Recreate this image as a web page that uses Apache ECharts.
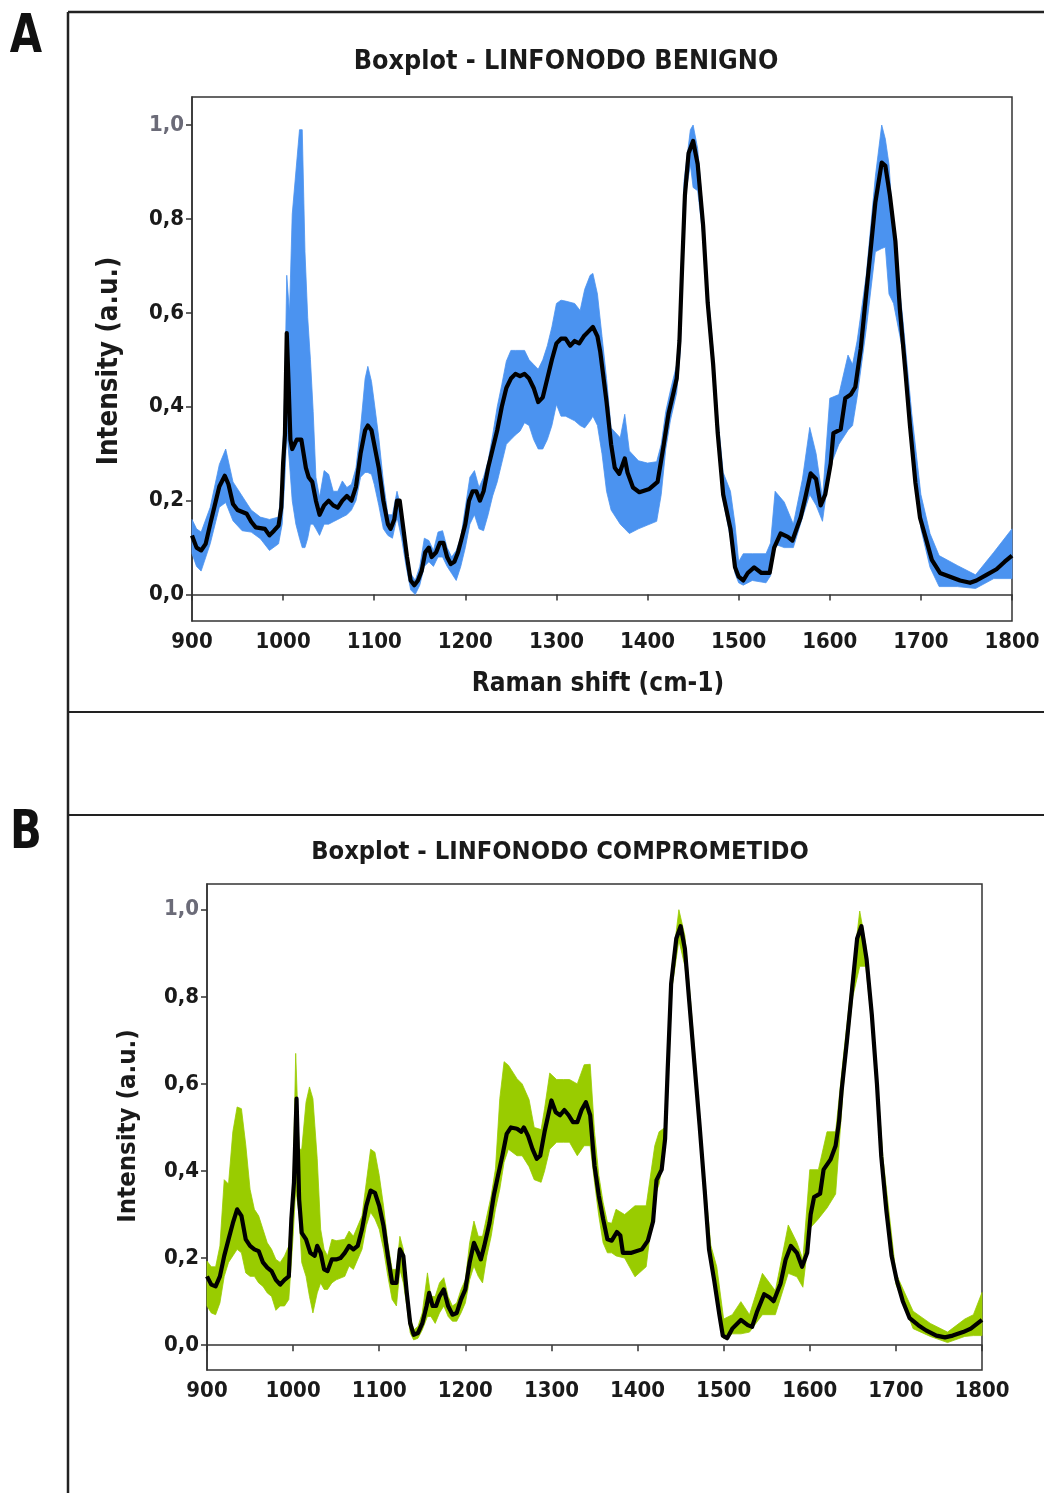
<!DOCTYPE html>
<html><head><meta charset="utf-8">
<script src="https://cdn.jsdelivr.net/npm/echarts@6/dist/echarts.min.js"></script>
<style>html,body{margin:0;padding:0;background:#fff}#c{width:1044px;height:1493px}</style>
</head><body><div id="c"></div><script>
// ---------- DATA ----------
const xTicks = [900, 1000, 1100, 1200, 1300, 1400, 1500, 1600, 1700, 1800];
const yTicks = [0, 0.2, 0.4, 0.6, 0.8, 1.0];

// Panel A: LINFONODO BENIGNO — median spectrum
const ramanA = [900,905,910,915,920,925,930,936,940,945,950,960,965,970,980,985,990,995,998,1000,1002,1004,1006,1008,1010,1015,1020,1025,1028,1032,1036,1040,1045,1050,1055,1060,1065,1070,1075,1080,1085,1090,1093,1097,1100,1105,1110,1115,1118,1122,1125,1128,1132,1136,1140,1144,1148,1152,1156,1160,1163,1168,1172,1176,1180,1184,1188,1192,1196,1200,1204,1208,1212,1216,1220,1225,1230,1235,1240,1245,1250,1255,1260,1265,1270,1275,1280,1285,1290,1295,1300,1305,1310,1315,1320,1325,1330,1335,1340,1345,1348,1355,1360,1364,1369,1375,1378,1384,1391,1402,1411,1417,1423,1428,1432,1435,1438,1441,1445,1450,1455,1461,1466,1472,1477,1483,1491,1496,1500,1505,1510,1517,1525,1534,1539,1546,1554,1559,1568,1573,1579,1585,1590,1595,1601,1604,1612,1617,1623,1628,1634,1639,1645,1650,1657,1661,1666,1672,1677,1683,1688,1694,1699,1705,1712,1721,1732,1743,1754,1761,1772,1783,1792,1800];
const medianA = [0.126,0.10,0.094,0.108,0.15,0.19,0.23,0.253,0.235,0.193,0.18,0.172,0.155,0.143,0.14,0.126,0.136,0.147,0.186,0.28,0.34,0.557,0.45,0.33,0.31,0.33,0.33,0.27,0.25,0.24,0.2,0.17,0.19,0.2,0.19,0.185,0.2,0.21,0.2,0.23,0.3,0.35,0.36,0.35,0.32,0.27,0.2,0.15,0.14,0.16,0.2,0.2,0.14,0.08,0.03,0.02,0.03,0.05,0.09,0.1,0.08,0.09,0.11,0.11,0.08,0.065,0.07,0.09,0.12,0.15,0.2,0.22,0.22,0.2,0.22,0.27,0.31,0.35,0.4,0.44,0.46,0.47,0.465,0.47,0.46,0.44,0.41,0.42,0.46,0.5,0.535,0.545,0.545,0.53,0.54,0.535,0.55,0.56,0.57,0.55,0.518,0.41,0.32,0.27,0.257,0.29,0.26,0.228,0.218,0.225,0.24,0.31,0.385,0.426,0.46,0.54,0.70,0.85,0.94,0.966,0.917,0.786,0.622,0.49,0.344,0.213,0.14,0.058,0.038,0.03,0.046,0.058,0.046,0.046,0.1,0.13,0.123,0.115,0.164,0.205,0.258,0.246,0.19,0.213,0.279,0.344,0.352,0.418,0.426,0.442,0.524,0.622,0.737,0.835,0.92,0.913,0.85,0.753,0.606,0.475,0.36,0.238,0.164,0.123,0.074,0.046,0.038,0.03,0.025,0.03,0.042,0.054,0.07,0.083];
// Panel A: spread band (lower / upper)
const bandRamanA = [900,905,910,920,930,937,945,955,965,975,985,995,999,1002,1004,1007,1010,1014,1018,1021,1024,1027,1030,1033,1036,1040,1045,1050,1055,1060,1065,1070,1075,1080,1085,1090,1093,1097,1100,1105,1110,1115,1120,1125,1130,1135,1140,1145,1150,1155,1160,1165,1170,1175,1180,1185,1190,1195,1200,1205,1210,1215,1220,1225,1230,1235,1240,1245,1250,1255,1260,1265,1270,1275,1280,1285,1290,1295,1300,1305,1310,1320,1326,1331,1337,1340,1345,1350,1355,1360,1370,1375,1380,1390,1400,1410,1415,1420,1425,1432,1436,1440,1447,1450,1455,1461,1466,1472,1477,1483,1491,1496,1500,1505,1515,1530,1535,1540,1550,1560,1570,1578,1585,1592,1600,1610,1620,1625,1630,1640,1650,1657,1661,1665,1670,1680,1690,1700,1710,1720,1740,1760,1780,1800];
const lowerA = [0.087,0.06,0.05,0.108,0.186,0.196,0.157,0.136,0.133,0.119,0.094,0.108,0.15,0.25,0.35,0.28,0.2,0.15,0.12,0.1,0.1,0.12,0.15,0.15,0.14,0.126,0.15,0.15,0.155,0.16,0.165,0.17,0.18,0.2,0.25,0.26,0.26,0.256,0.235,0.19,0.14,0.126,0.12,0.165,0.12,0.06,0.01,0.0,0.02,0.06,0.07,0.06,0.08,0.08,0.06,0.045,0.03,0.06,0.1,0.15,0.17,0.14,0.136,0.17,0.21,0.24,0.28,0.32,0.33,0.34,0.348,0.366,0.36,0.33,0.31,0.31,0.33,0.36,0.405,0.38,0.38,0.37,0.36,0.355,0.37,0.38,0.36,0.3,0.22,0.18,0.15,0.14,0.13,0.14,0.148,0.156,0.213,0.31,0.37,0.43,0.52,0.83,0.916,0.867,0.86,0.76,0.6,0.47,0.33,0.2,0.12,0.045,0.025,0.02,0.03,0.025,0.04,0.107,0.1,0.1,0.164,0.213,0.19,0.156,0.27,0.32,0.35,0.36,0.42,0.565,0.73,0.737,0.74,0.64,0.62,0.52,0.336,0.14,0.058,0.017,0.017,0.013,0.034,0.034];
const upperA = [0.16,0.14,0.133,0.186,0.277,0.31,0.24,0.21,0.18,0.165,0.16,0.165,0.25,0.45,0.68,0.6,0.81,0.9,0.99,0.99,0.73,0.59,0.5,0.39,0.25,0.207,0.264,0.256,0.22,0.22,0.242,0.228,0.235,0.27,0.355,0.46,0.486,0.454,0.41,0.334,0.242,0.17,0.17,0.22,0.18,0.1,0.045,0.03,0.06,0.12,0.115,0.094,0.133,0.136,0.1,0.08,0.094,0.122,0.186,0.25,0.264,0.228,0.25,0.285,0.34,0.4,0.447,0.497,0.52,0.52,0.52,0.52,0.5,0.49,0.48,0.5,0.53,0.57,0.62,0.627,0.625,0.62,0.605,0.65,0.68,0.684,0.64,0.55,0.46,0.355,0.334,0.384,0.306,0.285,0.28,0.283,0.32,0.39,0.434,0.49,0.6,0.88,0.99,1.0,0.95,0.81,0.65,0.52,0.38,0.26,0.22,0.15,0.07,0.087,0.087,0.087,0.11,0.22,0.197,0.15,0.246,0.356,0.3,0.205,0.418,0.426,0.51,0.49,0.54,0.68,0.89,1.0,0.97,0.916,0.77,0.59,0.385,0.213,0.13,0.083,0.062,0.042,0.09,0.14];

// Panel B: LINFONODO COMPROMETIDO — median spectrum
const ramanB = [900,905,910,915,920,925,930,935,940,945,950,955,960,965,970,975,980,985,990,995,998,1001,1004,1007,1010,1015,1020,1025,1028,1032,1036,1040,1045,1050,1055,1060,1065,1070,1075,1080,1085,1090,1095,1100,1105,1110,1115,1120,1124,1128,1132,1136,1140,1145,1150,1155,1158,1162,1166,1170,1175,1180,1185,1190,1195,1200,1205,1210,1215,1218,1222,1228,1233,1238,1243,1248,1253,1260,1265,1268,1273,1278,1283,1287,1292,1297,1300,1305,1310,1315,1320,1325,1330,1335,1340,1345,1350,1355,1360,1365,1370,1376,1380,1383,1393,1405,1412,1418,1422,1428,1432,1435,1439,1445,1450,1455,1460,1466,1472,1478,1483,1489,1495,1499,1504,1510,1520,1528,1533,1539,1547,1553,1558,1566,1572,1578,1585,1591,1597,1601,1605,1612,1616,1624,1630,1634,1637,1643,1649,1655,1660,1666,1672,1678,1683,1689,1695,1701,1708,1716,1726,1735,1747,1757,1766,1778,1787,1800];
const medianB = [0.158,0.139,0.135,0.158,0.205,0.243,0.28,0.312,0.297,0.243,0.228,0.22,0.216,0.19,0.178,0.17,0.15,0.139,0.15,0.158,0.29,0.374,0.566,0.335,0.258,0.243,0.212,0.205,0.228,0.212,0.174,0.17,0.197,0.197,0.2,0.212,0.228,0.22,0.228,0.266,0.32,0.355,0.35,0.32,0.274,0.205,0.143,0.143,0.22,0.205,0.12,0.05,0.024,0.028,0.05,0.09,0.12,0.09,0.09,0.112,0.128,0.09,0.07,0.074,0.105,0.128,0.19,0.235,0.212,0.197,0.228,0.28,0.343,0.39,0.435,0.485,0.5,0.497,0.49,0.5,0.48,0.45,0.428,0.435,0.49,0.535,0.562,0.535,0.528,0.54,0.528,0.512,0.512,0.54,0.558,0.528,0.412,0.343,0.29,0.243,0.24,0.26,0.252,0.212,0.212,0.22,0.24,0.284,0.379,0.403,0.474,0.633,0.83,0.934,0.962,0.91,0.79,0.648,0.506,0.355,0.22,0.149,0.07,0.022,0.016,0.038,0.058,0.046,0.042,0.078,0.117,0.11,0.101,0.141,0.197,0.228,0.212,0.18,0.212,0.3,0.34,0.348,0.403,0.426,0.458,0.514,0.585,0.696,0.815,0.934,0.962,0.886,0.76,0.6,0.434,0.308,0.205,0.149,0.101,0.062,0.046,0.034,0.022,0.018,0.022,0.03,0.038,0.058];
// Panel B: spread band (lower / upper)
const bandRamanB = [900,905,910,915,920,925,930,935,940,945,950,955,960,965,970,975,980,985,990,995,1000,1003,1007,1010,1015,1019,1023,1028,1032,1036,1040,1045,1050,1060,1065,1070,1080,1085,1090,1095,1100,1105,1110,1115,1120,1124,1128,1132,1136,1140,1145,1150,1156,1160,1165,1170,1175,1180,1185,1190,1195,1200,1205,1210,1215,1220,1225,1230,1235,1240,1245,1250,1260,1266,1274,1280,1288,1292,1298,1306,1314,1321,1330,1338,1345,1350,1355,1360,1365,1370,1375,1385,1397,1410,1420,1425,1432,1440,1448,1455,1462,1470,1478,1485,1492,1500,1510,1520,1530,1545,1560,1575,1585,1592,1600,1610,1620,1630,1640,1650,1658,1665,1672,1685,1700,1720,1740,1760,1780,1790,1800];
const lowerB = [0.09,0.074,0.07,0.097,0.158,0.19,0.205,0.22,0.212,0.166,0.158,0.158,0.143,0.135,0.12,0.112,0.08,0.09,0.09,0.105,0.25,0.358,0.3,0.19,0.158,0.112,0.074,0.12,0.143,0.128,0.128,0.143,0.15,0.158,0.182,0.174,0.22,0.274,0.305,0.29,0.266,0.22,0.158,0.105,0.09,0.174,0.143,0.09,0.028,0.012,0.016,0.035,0.066,0.066,0.05,0.074,0.09,0.066,0.055,0.055,0.074,0.097,0.15,0.182,0.158,0.143,0.205,0.25,0.312,0.358,0.42,0.45,0.435,0.435,0.41,0.38,0.374,0.4,0.45,0.466,0.466,0.466,0.435,0.458,0.458,0.374,0.297,0.235,0.212,0.212,0.205,0.2,0.157,0.18,0.34,0.37,0.45,0.82,0.93,0.87,0.74,0.55,0.35,0.19,0.11,0.015,0.026,0.026,0.03,0.07,0.07,0.165,0.157,0.133,0.268,0.29,0.315,0.347,0.62,0.8,0.87,0.87,0.74,0.4,0.14,0.038,0.02,0.006,0.02,0.022,0.022];
const upperB = [0.193,0.18,0.18,0.228,0.38,0.37,0.49,0.547,0.543,0.46,0.358,0.312,0.297,0.266,0.235,0.22,0.197,0.19,0.205,0.228,0.374,0.67,0.45,0.45,0.558,0.593,0.566,0.428,0.266,0.22,0.205,0.243,0.24,0.243,0.262,0.25,0.297,0.374,0.45,0.443,0.39,0.32,0.235,0.174,0.174,0.25,0.22,0.143,0.066,0.035,0.043,0.074,0.166,0.112,0.112,0.143,0.155,0.112,0.09,0.097,0.128,0.15,0.235,0.285,0.25,0.25,0.297,0.343,0.405,0.566,0.651,0.643,0.612,0.6,0.564,0.5,0.495,0.543,0.625,0.61,0.61,0.61,0.6,0.644,0.645,0.49,0.39,0.328,0.282,0.28,0.312,0.3,0.32,0.32,0.458,0.49,0.5,0.87,1.0,0.94,0.78,0.58,0.38,0.23,0.18,0.06,0.07,0.1,0.07,0.165,0.125,0.276,0.236,0.197,0.403,0.403,0.49,0.49,0.68,0.86,0.997,0.92,0.78,0.43,0.165,0.078,0.05,0.03,0.06,0.07,0.121];

// ---------- CHART ----------
const FONT = '"DejaVu Sans Condensed", "DejaVu Sans", sans-serif';
const INK = '#1a1a1a';
const zip = (xs, ys) => xs.map((x, i) => [x, ys[i]]);
const fmt = v => v.toFixed(1).replace('.', ',');

function xAxisFor(idx) {
  return {
    gridIndex: idx, type: 'value', min: xTicks[0], max: xTicks[xTicks.length - 1], interval: 100,
    axisLine: { show: true, lineStyle: { color: '#333', width: 1.5 } },
    axisTick: { show: true, length: 6, lineStyle: { color: '#333', width: 1.5 } },
    splitLine: { show: false },
    axisLabel: { color: INK, fontFamily: FONT, fontWeight: 'bold', fontSize: 22, margin: 10,
      formatter: v => String(v), showMinLabel: true, showMaxLabel: true }
  };
}
function yAxisFor(idx, mn, mx) {
  return {
    gridIndex: idx, type: 'value', min: mn, max: mx,
    axisLine: { show: true, lineStyle: { color: '#333', width: 1.5 } },
    axisTick: { show: true, length: 6, customValues: yTicks, lineStyle: { color: '#333', width: 1.5 } },
    splitLine: { show: false },
    axisLabel: { customValues: yTicks, formatter: fmt, fontFamily: FONT, fontWeight: 'bold', fontSize: 22, margin: 8,
      color: v => (v > 0.99 ? '#6b6b78' : INK) }
  };
}
function bandSeries(idx, xs, lo, hi, col) {
  return {
    type: 'custom', xAxisIndex: idx, yAxisIndex: idx, silent: true, z: 2, clip: false,
    data: xs.map((x, i) => [x, lo[i], hi[i]]),
    encode: { x: 0, y: [1, 2] },
    renderItem: function (params, api) {
      if (params.dataIndex !== 0) return null;
      const top = xs.map((x, i) => api.coord([x, hi[i]]));
      const bot = xs.map((x, i) => api.coord([x, lo[i]])).reverse();
      return { type: 'polygon', shape: { points: top.concat(bot) }, style: { fill: col, stroke: col, lineWidth: 0.8 } };
    }
  };
}
function medianSeries(idx, xs, ys) {
  return { type: 'line', xAxisIndex: idx, yAxisIndex: idx, data: zip(xs, ys),
    showSymbol: false, symbol: 'none', lineStyle: { color: '#000', width: 4.2, join: 'round' }, z: 5 };
}

const chart = echarts.init(document.getElementById('c'), null, { renderer: 'canvas' });
chart.setOption({
  animation: false,
  backgroundColor: '#fff',
  grid: [
    { left: 192, top: 97, width: 820, height: 524, show: true, borderColor: '#333', borderWidth: 1.5, backgroundColor: '#fff' },
    { left: 207, top: 884, width: 775, height: 486, show: true, borderColor: '#333', borderWidth: 1.5, backgroundColor: '#fff' }
  ],
  xAxis: [xAxisFor(0), xAxisFor(1)],
  yAxis: [yAxisFor(0, -0.0563, 1.0597), yAxisFor(1, -0.057, 1.059)],
  series: [
    bandSeries(0, bandRamanA, lowerA, upperA, '#4b93f0'),
    medianSeries(0, ramanA, medianA),
    bandSeries(1, bandRamanB, lowerB, upperB, '#99cc00'),
    medianSeries(1, ramanB, medianB)
  ],
  graphic: [
    { type: 'line', shape: { x1: 68, y1: 12, x2: 68, y2: 1493 }, style: { stroke: '#222', lineWidth: 2.5 } },
    { type: 'line', shape: { x1: 68, y1: 12, x2: 1044, y2: 12 }, style: { stroke: '#222', lineWidth: 2.5 } },
    { type: 'line', shape: { x1: 68, y1: 712, x2: 1044, y2: 712 }, style: { stroke: '#222', lineWidth: 2 } },
    { type: 'line', shape: { x1: 68, y1: 815, x2: 1044, y2: 815 }, style: { stroke: '#222', lineWidth: 2 } },
    { type: 'text', x: 26, y: 38, scaleX: 0.86, style: { text: 'A', fill: '#111', font: 'bold 54px "DejaVu Sans Condensed", sans-serif', align: 'center', verticalAlign: 'middle' } },
    { type: 'text', x: 26, y: 834, scaleX: 0.86, style: { text: 'B', fill: '#111', font: 'bold 54px "DejaVu Sans Condensed", sans-serif', align: 'center', verticalAlign: 'middle' } },
    { type: 'text', x: 566, y: 62, style: { text: 'Boxplot - LINFONODO BENIGNO', fill: INK, font: 'bold 26.7px ' + FONT, align: 'center', verticalAlign: 'middle' } },
    { type: 'text', x: 560, y: 852, style: { text: 'Boxplot - LINFONODO COMPROMETIDO', fill: INK, font: 'bold 25.3px ' + FONT, align: 'center', verticalAlign: 'middle' } },
    { type: 'text', x: 110, y: 361, rotation: Math.PI / 2, style: { text: 'Intensity (a.u.)', fill: INK, font: 'bold 27.5px ' + FONT, align: 'center', verticalAlign: 'middle' } },
    { type: 'text', x: 128, y: 1126, rotation: Math.PI / 2, style: { text: 'Intensity (a.u.)', fill: INK, font: 'bold 25.5px ' + FONT, align: 'center', verticalAlign: 'middle' } },
    { type: 'text', x: 598, y: 684, style: { text: 'Raman shift (cm-1)', fill: INK, font: 'bold 26px ' + FONT, align: 'center', verticalAlign: 'middle' } }
  ]
});
</script></body></html>
